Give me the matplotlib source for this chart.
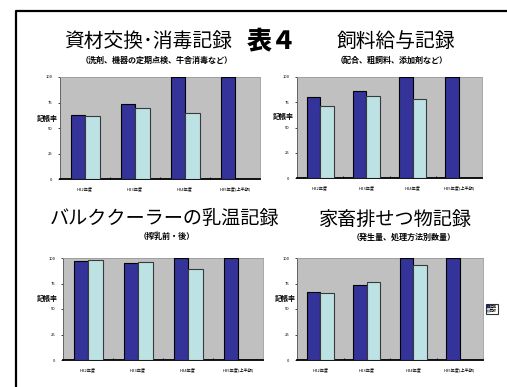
import matplotlib
matplotlib.use("Agg")
import matplotlib.pyplot as plt
from matplotlib.lines import Line2D
from matplotlib.patches import Patch

plt.rcParams['font.family'] = ['Noto Sans CJK JP', 'DejaVu Sans']

W, H = 507, 387

categories = ["H22年度", "H23年度", "H24年度", "H25年度(上半期)"]
series_names = ["実施", "記録"]

titles = ["資材交換･消毒記録", "飼料給与記録", "バルククーラーの乳温記録", "家畜排せつ物記録"]
subtitles = ["（洗剤、機器の定期点検、牛舎消毒など）", "（配合、粗飼料、添加剤など）",
             "（搾乳前・後）", "（発生量、処理方法別数量）"]

p1_dark = [63, 74, 100, 100]
p1_light = [62, 70, 65, None]
p2_dark = [80, 86, 100, 100]
p2_light = [71, 81, 78, None]
p3_dark = [97, 95, 100, 100]
p3_light = [98, 96, 89, None]
p4_dark = [67, 74, 100, 100]
p4_light = [66, 76, 93, None]

dark_vals = [p1_dark, p2_dark, p3_dark, p4_dark]
light_vals = [p1_light, p2_light, p3_light, p4_light]

yticks = [0, 25, 50, 75, 100]
ylabel = "記帳率"

DARK = "#333399"
LIGHT = "#BDE2E4"
BG = "#C0C0C0"

fig = plt.figure(figsize=(W / 100, H / 100), dpi=100)
fig.patch.set_facecolor("white")


def fx(px):
    return px / W


def fy(py):
    return 1 - py / H


# outer frame
fig.add_artist(Line2D([fx(16), fx(16), fx(507)], [fy(387), fy(10.5), fy(10.5)],
                      transform=fig.transFigure, color="black", lw=1.6))

# panel rects (left, right, top, bottom) in pixels
rects = [(60, 260, 77, 179), (297, 482, 77, 178), (63, 263, 258, 360), (297, 483, 258, 360)]
ylab_pos = [(47, 118), (283, 117), (47, 299), (285, 299)]

w = 0.29
for k, (l, r, t, b) in enumerate(rects):
    ax = fig.add_axes([fx(l), fy(b), (r - l) / W, (b - t) / H])
    ax.set_facecolor(BG)
    xs = list(range(len(categories)))
    ax.bar([x - w / 2 for x in xs], dark_vals[k], width=w, color=DARK,
           edgecolor="black", linewidth=0.8, zorder=3)
    lx = [x + w / 2 for x, v in zip(xs, light_vals[k]) if v is not None]
    lv = [v for v in light_vals[k] if v is not None]
    ax.bar(lx, lv, width=w, color=LIGHT, edgecolor="#3a3a3a", linewidth=0.8, zorder=3)
    ax.set_xlim(-0.5, len(categories) - 0.5)
    ax.set_ylim(0, 100)
    ax.set_yticks(yticks)
    ax.set_yticklabels([str(v) for v in yticks])
    ax.set_xticks(xs)
    ax.set_xticklabels(categories)
    ax.set_xticks([0.5, 1.5, 2.5], minor=True)
    ax.tick_params(axis="x", which="major", length=0, labelsize=3, pad=5)
    ax.tick_params(axis="x", which="minor", length=1.5, direction="in", width=0.6)
    ax.tick_params(axis="y", length=1.5, width=0.5, labelsize=3, pad=4)
    for s in ["top", "right"]:
        ax.spines[s].set_color("#9a9a9a")
        ax.spines[s].set_linewidth(0.6)
    ax.spines["left"].set_color("#555555")
    ax.spines["left"].set_linewidth(0.6)
    ax.spines["bottom"].set_color("black")
    ax.spines["bottom"].set_linewidth(1.3)
    px, py = ylab_pos[k]
    fig.text(fx(px), fy(py), ylabel, ha="center", va="center", fontsize=5,
             fontweight="bold")

# titles
fig.text(fx(148), fy(41), titles[0], ha="center", va="center", fontsize=14.2)
fig.text(fx(272), fy(40), "表４", ha="center", va="center", fontsize=18, fontweight="black")
fig.text(fx(396), fy(41), titles[1], ha="center", va="center", fontsize=14.2)
fig.text(fx(157), fy(60), subtitles[0], ha="center", va="center", fontsize=5.8, fontweight="bold")
fig.text(fx(392), fy(60), subtitles[1], ha="center", va="center", fontsize=5.8, fontweight="bold")
fig.text(fx(165), fy(219), titles[2], ha="center", va="center", fontsize=13.8)
fig.text(fx(395), fy(219), titles[3], ha="center", va="center", fontsize=13.8)
fig.text(fx(167), fy(236.5), subtitles[2], ha="center", va="center", fontsize=5.8, fontweight="bold")
fig.text(fx(404), fy(237), subtitles[3], ha="center", va="center", fontsize=5.8, fontweight="bold")

# tiny legend
handles = [Patch(facecolor=DARK, edgecolor="black", linewidth=0.3),
           Patch(facecolor=LIGHT, edgecolor="black", linewidth=0.3)]
leg = fig.legend(handles, series_names, loc="center", bbox_to_anchor=(fx(492), fy(309)),
                 fontsize=2.5, frameon=True, handlelength=0.8, handleheight=0.6,
                 handletextpad=0.2, borderpad=0.3, labelspacing=0.2, fancybox=False)
leg.get_frame().set_edgecolor("black")
leg.get_frame().set_linewidth(0.8)

fig.savefig("out.png", dpi=100)
